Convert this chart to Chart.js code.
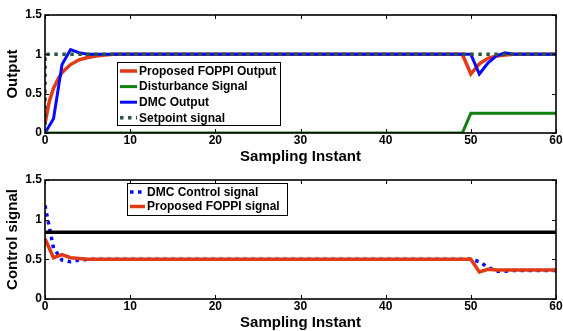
<!DOCTYPE html>
<html>
<head>
<meta charset="utf-8">
<script src="https://cdn.jsdelivr.net/npm/chart.js@4.4.1/dist/chart.umd.min.js"></script>
<style>
  html, body { margin: 0; padding: 0; background: #fff; }
  #wrap { position: relative; width: 563px; height: 331px; }
  .pane { position: absolute; left: 0; width: 563px; }
</style>
</head>
<body>
<div id="wrap">
  <div class="pane" style="top:0;height:165px"><canvas id="c1" width="563" height="165"></canvas></div>
  <div class="pane" style="top:165px;height:166px"><canvas id="c2" width="563" height="166"></canvas></div>
</div>
<script>
// ---------- data ----------
const xTicks = [0, 10, 20, 30, 40, 50, 60];
const yTicks = [0, 0.5, 1, 1.5];
const yTickLabels = ['0', '0.5', '1', '1.5'];

// Top panel: Output
const foppiOutK = [0, 0.5, 1, 1.5, 2, 3, 4, 5, 6, 7, 8, 49, 50, 51, 52, 53, 54, 55, 60];
const foppiOutY = [0.12, 0.4, 0.57, 0.68, 0.77, 0.87, 0.93, 0.96, 0.98, 0.99, 1, 1, 0.75, 0.88, 0.95, 0.98, 0.99, 1, 1];
const disturbK = [0, 49, 50, 60];
const disturbY = [0, 0, 0.25, 0.25];
const dmcOutK = [0, 1, 2, 3, 4, 5, 50, 51, 52, 53, 54, 55, 60];
const dmcOutY = [0, 0.18, 0.87, 1.06, 1.02, 1, 1, 0.75, 0.89, 0.98, 1.02, 1, 1];
const setpointK = [0, 0, 60];
const setpointY = [0, 1, 1];

// Bottom panel: Control signal
const dmcCtrlK = [0, 1, 2, 3, 4, 5, 50, 51, 52, 53, 54, 55, 60];
const dmcCtrlY = [1.18, 0.64, 0.49, 0.47, 0.49, 0.5, 0.5, 0.47, 0.40, 0.35, 0.35, 0.36, 0.36];
const foppiCtrlK = [0, 1, 2, 3, 4, 5, 50, 51, 52, 53, 60];
const foppiCtrlY = [0.76, 0.52, 0.56, 0.52, 0.51, 0.5, 0.5, 0.34, 0.375, 0.365, 0.365];
const limitK = [0, 60];
const limitY = [0.84, 0.84];

const labelsTop = ['Proposed FOPPI Output', 'Disturbance Signal', 'DMC Output', 'Setpoint signal'];
const labelsBottom = ['DMC Control signal', 'Proposed FOPPI signal'];

// ---------- styling ----------
const FONT = "'Liberation Sans', Arial, Helvetica, sans-serif";
const RED = 'rgb(226,58,20)';
const GREEN = 'rgb(16,128,16)';
const BLUE = 'rgb(10,10,250)';
const DKGREEN = 'rgb(40,88,62)';

const pts = (xs, ys) => xs.map((x, i) => ({x: x, y: ys[i]}));

Chart.defaults.font.family = FONT;
Chart.defaults.color = '#000';

const frameTicks = {
  id: 'frameTicks',
  afterDatasetsDraw(chart) {
    const {ctx, chartArea: a, scales} = chart;
    ctx.save();
    ctx.strokeStyle = '#000';
    ctx.lineWidth = 1;
    const L = 4;
    ctx.beginPath();
    xTicks.forEach(v => {
      const px = Math.round(scales.x.getPixelForValue(v)) + 0.5;
      ctx.moveTo(px, a.bottom); ctx.lineTo(px, a.bottom - L);
      ctx.moveTo(px, a.top); ctx.lineTo(px, a.top + L);
    });
    yTicks.forEach(v => {
      const py = Math.round(scales.y.getPixelForValue(v)) + 0.5;
      ctx.moveTo(a.left, py); ctx.lineTo(a.left + L, py);
      ctx.moveTo(a.right, py); ctx.lineTo(a.right - L, py);
    });
    ctx.stroke();
    ctx.lineWidth = 1.6;
    ctx.strokeRect(a.left, a.top, a.right - a.left, a.bottom - a.top);
    ctx.restore();
  }
};

const boxLegend = {
  id: 'boxLegend',
  afterDraw(chart, args, opts) {
    const {ctx, chartArea: a} = chart;
    const x0 = a.left + opts.dx, y0 = a.top + opts.dy;
    ctx.save();
    ctx.fillStyle = '#fff';
    ctx.fillRect(x0, y0, opts.w, opts.h);
    ctx.strokeStyle = '#000';
    ctx.lineWidth = 1;
    ctx.strokeRect(x0 + 0.5, y0 + 0.5, opts.w, opts.h);
    ctx.font = 'bold 12px ' + FONT;
    ctx.textBaseline = 'middle';
    ctx.textAlign = 'left';
    opts.items.forEach((idx, r) => {
      const ds = chart.data.datasets[idx];
      const cy = y0 + opts.first + r * opts.rowH;
      ctx.beginPath();
      ctx.strokeStyle = ds.borderColor;
      ctx.lineWidth = ds.borderWidth;
      ctx.setLineDash(ds.borderDash || []);
      ctx.lineCap = 'butt';
      ctx.moveTo(x0 + 3, cy); ctx.lineTo(x0 + 3 + opts.lineLen, cy);
      ctx.stroke();
      ctx.setLineDash([]);
      ctx.fillStyle = '#000';
      ctx.fillText(ds.label, x0 + 5 + opts.lineLen, cy + 0.5);
    });
    ctx.restore();
  }
};

function makeScales(yTitle) {
  return {
    x: {
      type: 'linear', min: 0, max: 60,
      afterBuildTicks: s => { s.ticks = xTicks.map(v => ({value: v})); },
      afterFit: s => { s.height = 32; },
      grid: {display: false, drawTicks: false},
      border: {display: false},
      ticks: {font: {size: 12, weight: 'bold'}, padding: 0, maxRotation: 0, autoSkip: false,
              callback: v => String(v)},
      title: {display: true, text: 'Sampling Instant', font: {size: 15, weight: 'bold', lineHeight: 1.1},
              padding: {top: 0, bottom: 0}}
    },
    y: {
      type: 'linear', min: 0, max: 1.5,
      afterBuildTicks: s => { s.ticks = yTicks.map(v => ({value: v})); },
      afterFit: s => { s.width = 45; },
      grid: {display: false, drawTicks: false},
      border: {display: false},
      ticks: {font: {size: 12, weight: 'bold'}, padding: 3, autoSkip: false,
              callback: (v) => yTickLabels[yTicks.indexOf(v)] ?? String(v)},
      title: {display: true, text: yTitle, font: {size: 15, weight: 'bold', lineHeight: 1.1},
              padding: {top: 5, bottom: 0}}
    }
  };
}

const common = {
  responsive: false,
  animation: false,
  events: [],
  layout: {padding: {left: 0, right: 7, top: 15, bottom: 0}},
  plugins: {legend: {display: false}, tooltip: {enabled: false}}
};

new Chart(document.getElementById('c1'), {
  type: 'line',
  data: {
    datasets: [
      {label: labelsTop[0], data: pts(foppiOutK, foppiOutY), borderColor: RED, borderWidth: 3.5, pointRadius: 0, order: 4},
      {label: labelsTop[1], data: pts(disturbK, disturbY), borderColor: GREEN, borderWidth: 3, pointRadius: 0, order: 3},
      {label: labelsTop[2], data: pts(dmcOutK, dmcOutY), borderColor: BLUE, borderWidth: 3, pointRadius: 0, order: 2},
      {label: labelsTop[3], data: pts(setpointK, setpointY), borderColor: DKGREEN, borderWidth: 3.5, borderDash: [3.5, 4.5], pointRadius: 0, order: 1}
    ]
  },
  options: Object.assign({}, common, {
    scales: makeScales('Output'),
    plugins: Object.assign({}, common.plugins, {
      boxLegend: {dx: 72, dy: 47, w: 163, h: 63, first: 9, rowH: 15.6, lineLen: 17, items: [0, 1, 2, 3]}
    })
  }),
  plugins: [frameTicks, boxLegend]
});

new Chart(document.getElementById('c2'), {
  type: 'line',
  data: {
    datasets: [
      {label: labelsBottom[0], data: pts(dmcCtrlK, dmcCtrlY), borderColor: BLUE, borderWidth: 3.5, borderDash: [3.5, 4.5], pointRadius: 0, order: 3},
      {label: labelsBottom[1], data: pts(foppiCtrlK, foppiCtrlY), borderColor: RED, borderWidth: 3.5, pointRadius: 0, order: 2},
      {label: '', data: pts(limitK, limitY), borderColor: '#000', borderWidth: 3.5, pointRadius: 0, order: 1}
    ]
  },
  options: Object.assign({}, common, {
    scales: makeScales('Control signal'),
    plugins: Object.assign({}, common.plugins, {
      boxLegend: {dx: 82, dy: 3, w: 160, h: 32, first: 9, rowH: 14.5, lineLen: 15, items: [0, 1]}
    })
  }),
  plugins: [frameTicks, boxLegend]
});
</script>
</body>
</html>
